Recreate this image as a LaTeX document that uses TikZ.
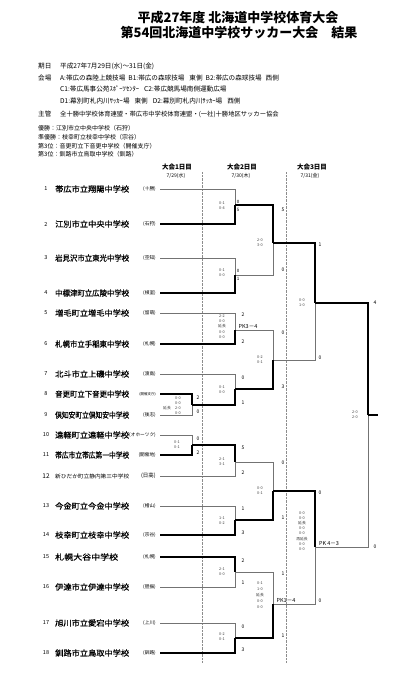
\documentclass[tikz,border=0pt]{standalone}
\usepackage{fontspec}
\setmainfont{Noto Sans CJK JP}
\newfontface\tnface{Noto Sans CJK JP}[FakeBold=0.6]
\usepackage{graphicx}
\newcommand{\tnm}[2][74pt]{\resizebox{#1}{\height}{#2}}
\tikzset{
  lo/.style={draw=black!55, line width=0.6pt},
  win/.style={draw=black, line width=1.8pt},
  sc/.style={font=\fontsize{5}{5}\selectfont, inner sep=0pt},
  blk/.style={font=\fontsize{3.8}{5}\selectfont, inner sep=0pt, align=center, text=black!75},
  num/.style={font=\fontsize{5.5}{6}\selectfont, inner sep=0pt},
  tname/.style={font=\tnface\fontsize{7.8}{8}\selectfont, inner sep=0pt, anchor=west},
  reg/.style={font=\fontsize{4.7}{5}\selectfont, inner sep=0pt, anchor=east},
  info/.style={font=\fontsize{6.6}{7}\selectfont, inner sep=0pt, anchor=west},
  res/.style={font=\fontsize{6}{7}\selectfont, inner sep=0pt, anchor=west},
  hdr/.style={font=\bfseries\fontsize{6.5}{7}\selectfont, inner sep=0pt},
  hdate/.style={font=\fontsize{5}{6}\selectfont, inner sep=0pt},
  pk/.style={font=\fontsize{5.5}{6}\selectfont, inner sep=0pt},
  dayline/.style={draw=black!45, densely dotted, line width=0.4pt}
}
\begin{document}
\begin{tikzpicture}[x=1pt,y=-1pt]
\useasboundingbox[fill=white] (0,0) rectangle (400,675);
% title
\node[font=\bfseries\fontsize{13}{14}\selectfont, inner sep=0pt] (title1) at (238,18) {平成27年度 北海道中学校体育大会};
\node[font=\bfseries\fontsize{13}{14}\selectfont, inner sep=0pt] (title2) at (239,33) {第54回北海道中学校サッカー大会　結果};
% info
\node[info] (k1) at (38,66) {期日};
\node[info] (v1) at (60,66) {平成27年7月29日(水)～31日(金)};
\node[info] (k2) at (38,78) {会場};
\node[info] (v2) at (60,78) {A:帯広の森陸上競技場\hspace{3pt}B1:帯広の森球技場\hspace{5pt}東側\hspace{3pt}B2:帯広の森球技場\hspace{4pt}西側};
\node[info] (v3) at (60,89) {C1:帯広馬事公苑ｽﾎﾟｰﾂｾﾝﾀｰ\hspace{5pt}C2:帯広競馬場南側運動広場};
\node[info] (v4) at (60,101) {D1:幕別町札内川ｻｯｶｰ場\hspace{5pt}東側\hspace{5pt}D2:幕別町札内川ｻｯｶｰ場\hspace{5pt}西側};
\node[info] (k3) at (38,114) {主管};
\node[info,font=\fontsize{6.3}{7}\selectfont] (v5) at (60,114) {全十勝中学校体育連盟・帯広市中学校体育連盟・(一社)十勝地区サッカー協会};
\node[res] (res1) at (38,128) {優勝：江別市立中央中学校（石狩）};
\node[res] (res2) at (38,137) {準優勝：枝幸町立枝幸中学校（宗谷）};
\node[res] (res3) at (38,146) {第3位：音更町立下音更中学校（開催支庁）};
\node[res] (res4) at (38,154) {第3位：釧路市立鳥取中学校（釧路）};
% day headers
\node[hdr] (d1) at (177,167) {大会1日目};
\node[hdate] (d1b) at (176,176) {7/29(水)};
\node[hdr] (d2) at (242,167) {大会2日目};
\node[hdate] (d2b) at (241,176) {7/30(木)};
\node[hdr] (d3) at (312,167) {大会3日目};
\node[hdate] (d3b) at (310,176) {7/31(金)};
\draw[dayline] (202,172) -- (202,663);
\draw[dayline] (286,172) -- (286,663);
% teams
\foreach \i/\y/\nm/\rg in {
 1/189/帯広市立翔陽中学校/(十勝),
 2/224/江別市立中央中学校/(石狩),
 3/258/岩見沢市立東光中学校/(空知),
 4/293/中標津町立広陵中学校/(根室),
 5/313/増毛町立増毛中学校/(留萌),
 6/344/札幌市立手稲東中学校/(札幌),
 7/374/北斗市立上磯中学校/(渡島),
 9/415/倶知安町立倶知安中学校/(後志),
 10/435/遠軽町立遠軽中学校/(オホーツク),
 11/455/帯広市立帯広第一中学校/(開催地),
 13/506/今金町立今金中学校/(檜山),
 14/535/枝幸町立枝幸中学校/(宗谷),
 16/587/伊達市立伊達中学校/(胆振),
 17/623/旭川市立愛宕中学校/(上川),
 18/653/釧路市立鳥取中学校/(釧路)} {
  \node[num] (n\i) at (46,\y) {\i};
  \node[tname] (tn\i) at (55,\y) {\tnm{\nm}};
  \node[reg] (rg\i) at (156,\y) {\rg};
  \coordinate (t\i) at (160,\y);
}
\node[num] (n8) at (46,394) {8};
\node[tname] (tn8) at (55,394) {\tnm{音更町立下音更中学校}};
\node[reg,font=\fontsize{3.5}{4}\selectfont] (rg8) at (156,394) {(開催支庁)};
\coordinate (t8) at (160,394);
\node[num,font=\fontsize{6.5}{7}\selectfont] (n12) at (46,476) {12};
\node[tname,font=\fontsize{5.3}{6}\selectfont] (tn12) at (55,476) {\tnm{新ひだか町立静内第三中学校}};
\node[reg,font=\fontsize{5.5}{6}\selectfont] (rg12) at (156,476) {(日高)};
\coordinate (t12) at (160,476);
\node[num] (n15) at (46,557) {15};
\node[tname] (tn15) at (55,557) {\tnm[63pt]{札幌大谷中学校}};
\node[reg] (rg15) at (156,557) {(札幌)};
\coordinate (t15) at (160,557);
% match points
\coordinate (m89) at (192,405);
\coordinate (m1011) at (192,445);
\coordinate (m12) at (235,205);
\coordinate (m34) at (235,275);
\coordinate (m56) at (235,330);
\coordinate (m7) at (235,389);
\coordinate (m1012) at (235,462);
\coordinate (m1314) at (235,520);
\coordinate (m1516) at (235,572);
\coordinate (m1718) at (235,638);
\coordinate (r1) at (273,243);
\coordinate (r2) at (273,360);
\coordinate (r3) at (273,491);
\coordinate (r4) at (273,604);
\coordinate (s1) at (315,303);
\coordinate (s2) at (315,547);
\coordinate (fin) at (368,415);
\coordinate (champ) at (378,415);
% losing paths
\draw[lo] (t1) -| (m12);
\draw[lo] (t3) -| (m34);
\draw[lo] (m34) -| (r1);
\draw[lo] (t5) -| (m56);
\draw[lo] (t9) -| (m89);
\draw[lo] (t7) -| (m7);
\draw[lo] (m56) -| (r2);
\draw[lo] (r2) -| (s1);
\draw[lo] (t10) -| (m1011);
\draw[lo] (t12) -| (m1012);
\draw[lo] (t13) -| (m1314);
\draw[lo] (m1012) -| (r3);
\draw[lo] (t16) -| (m1516);
\draw[lo] (t17) -| (m1718);
\draw[lo] (m1516) -| (r4);
\draw[lo] (r4) -| (s2);
\draw[lo] (s2) -| (fin);
% winning paths
\draw[win] (t2) -| (m12);
\draw[win] (t4) -| (m34);
\draw[win] (m12) -| (r1);
\draw[win] (t6) -| (m56);
\draw[win] (t8) -| (m89);
\draw[win] (m89) -| (m7);
\draw[win] (m7) -| (r2);
\draw[win] (r1) -| (s1);
\draw[win] (t11) -| (m1011);
\draw[win] (m1011) -| (m1012);
\draw[win] (t14) -| (m1314);
\draw[win] (m1314) -| (r3);
\draw[win] (t15) -| (m1516);
\draw[win] (t18) -| (m1718);
\draw[win] (m1718) -| (r4);
\draw[win] (r3) -| (s2);
\draw[win] (s1) -| (fin);
\draw[win] (fin) -- (champ);
% round 1 scores
\node[sc] (a1) at (198,398) {2};
\node[sc] (a2) at (198,412) {0};
\node[blk] (b89) at (178,405.5) {0-0\\0-0\\2-0\\0-0};
\node[blk] (e89) at (167,408) {延長};
\node[sc] (a3) at (198,439) {0};
\node[sc] (a4) at (198,453) {2};
\node[blk] (b1011) at (177,445) {0-1\\0-1};
% round 2 scores
\node[sc,font=\fontsize{4.5}{5}\selectfont] (c1) at (238,202) {0};
\node[sc,font=\fontsize{4.5}{5}\selectfont] (c2) at (238,210) {5};
\node[blk] (b12) at (222,206) {0-1\\0-4};
\node[sc,font=\fontsize{4.5}{5}\selectfont] (c3) at (238,271) {0};
\node[sc,font=\fontsize{4.5}{5}\selectfont] (c4) at (238,279) {1};
\node[blk] (b34) at (222,273) {0-1\\0-0};
\node[sc] (c5) at (243,315) {2};
\node[sc] (c6) at (243,342) {2};
\node[blk,font=\fontsize{3.8}{5.25}\selectfont] (b56) at (222,326.5) {2-2\\0-0\\延長\\0-0\\0-0};
\node[pk] (pk56) at (248,326.5) {PK3－4};
\node[sc] (c7) at (243,378) {0};
\node[sc] (c8) at (243,403) {1};
\node[blk] (b7) at (222,389.5) {0-1\\0-0};
\node[sc] (c9) at (243,448) {5};
\node[sc] (c10) at (243,473) {2};
\node[blk] (b1012) at (222,461.5) {2-1\\3-1};
\node[sc] (c11) at (243,509) {1};
\node[sc] (c12) at (243,533) {3};
\node[blk] (b1314) at (222,520.5) {1-1\\0-2};
\node[sc] (c13) at (243,561) {2};
\node[sc] (c14) at (243,583) {1};
\node[blk] (b1516) at (222,571.5) {2-1\\0-0};
\node[sc] (c15) at (243,627) {0};
\node[sc] (c16) at (243,650) {3};
\node[blk] (b1718) at (222,636.5) {0-2\\0-1};
% round 3 scores
\node[sc] (e1) at (283,210) {5};
\node[sc] (e2) at (283,270) {0};
\node[blk] (br1) at (260,243) {2-0\\3-0};
\node[sc] (e3) at (283,333) {0};
\node[sc] (e4) at (283,387) {3};
\node[blk] (br2) at (260,359.5) {0-2\\0-1};
\node[sc] (e5) at (283,463) {0};
\node[sc] (e6) at (283,518) {1};
\node[blk] (br3) at (260,491) {0-0\\0-1};
\node[sc] (e7) at (283,574) {1};
\node[sc] (e8) at (283,636) {1};
\node[blk,font=\fontsize{3.8}{6}\selectfont] (br4) at (260,595) {0-1\\1-0\\延長\\0-0\\0-0};
\node[pk] (pkr4) at (286,600.5) {PK1－4};
% semis
\node[sc] (g1) at (320,245) {1};
\node[sc] (g2) at (320,358) {0};
\node[blk] (bs1) at (302,303) {0-0\\1-0};
\node[sc] (g3) at (320,493) {0};
\node[sc] (g4) at (320,601) {0};
\node[blk,font=\fontsize{3.8}{5.1}\selectfont] (bs2) at (302,531) {0-0\\0-0\\延長\\0-0\\0-0\\再延長\\0-0\\0-0};
\node[pk] (pks2) at (329,543.5) {PK\ 4－3};
% final
\node[sc] (h1) at (375,303) {4};
\node[sc] (h2) at (375,547) {0};
\node[blk] (bf) at (355,414.5) {2-0\\2-0};
\end{tikzpicture}
\end{document}
